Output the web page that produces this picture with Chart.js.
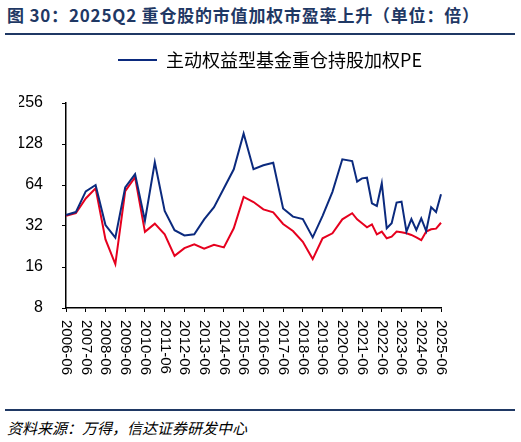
<!DOCTYPE html>
<html>
<head>
<meta charset="utf-8">
<script src="https://cdn.jsdelivr.net/npm/chart.js@4.4.1/dist/chart.umd.min.js"></script>
<style>
  html, body { margin: 0; padding: 0; background: #fff; }
  #page { position: relative; width: 521px; height: 442px; overflow: hidden; }
  .title { position: absolute; left: 7px; top: 4px; font: bold 17px "Noto Sans CJK SC", sans-serif; color: #1f3864; white-space: nowrap; line-height: 22px; letter-spacing: 0.8px; }
  .rule { position: absolute; left: 5px; width: 510px; height: 2px; background: #1f3864; }
  .source { position: absolute; left: 7px; top: 418px; font: italic 15px "Noto Sans CJK SC", sans-serif; color: #000; white-space: nowrap; line-height: 20px; }
  #wrap { position: absolute; left: 0; top: 40px; width: 521px; height: 360px; }
</style>
</head>
<body>
<div id="page">
  <div class="title">图 30：2025Q2 重仓股的市值加权市盈率上升（单位：倍）</div>
  <div class="rule" style="top:33px"></div>
  <div id="wrap"><canvas id="chart"></canvas></div>
  <div class="rule" style="top:409px"></div>
  <div class="source">资料来源：万得，信达证券研发中心</div>
</div>
<script>
// report dates (semiannual until 2020, quarterly after)
const dates = [
  '2006-06', '2006-12', '2007-06', '2007-12', '2008-06', '2008-12', '2009-06', '2009-12',
  '2010-06', '2010-12', '2011-06', '2011-12', '2012-06', '2012-12', '2013-06', '2013-12',
  '2014-06', '2014-12', '2015-06', '2015-12', '2016-06', '2016-12', '2017-06', '2017-12',
  '2018-06', '2018-12', '2019-06', '2019-12', '2020-06', '2020-12',
  '2021-03', '2021-06', '2021-09', '2021-12', '2022-03', '2022-06', '2022-09', '2022-12',
  '2023-03', '2023-06', '2023-09', '2023-12', '2024-03', '2024-06', '2024-09', '2024-12',
  '2025-03', '2025-06'
];
const weightedPE = [
  38.5, 40.5, 57.5, 64, 32.5, 26.3, 61.5, 76.8,
  35, 94, 41.3, 29.8, 27.3, 27.8, 35.8, 44,
  60.5, 83.5, 153, 83.5, 89.3, 93.3, 43, 37.5,
  36, 26.4, 38, 57, 98.8, 96,
  67.7, 71.6, 72.4, 47, 44.9, 66, 30.8, 33.5,
  47.5, 48.3, 29.1, 36, 29.9, 36.4, 29.4, 44,
  40.5, 54.7
];
const secondPE = [
  38, 39.7, 51, 60.5, 25.5, 16.8, 57.7, 73,
  29, 33.3, 27.8, 19.3, 22, 23.5, 21.8, 23.3,
  22.3, 30.8, 52.3, 48, 42.4, 40.3, 33.1, 29.4,
  24.5, 18.3, 26, 28.3, 35.8, 39.7,
  35.8, 33.5, 31.3, 32.9, 27.8, 29.1, 26, 26.7,
  29.1, 28.8, 28.3, 27.5, 26.4, 25.2, 29.1, 30.3,
  30.6, 33.8
];
const yTicks = [8, 16, 32, 64, 128, 256];
const legendLabel = '主动权益型基金重仓持股加权PE';

// quarterly axis so the later quarterly points sit between the yearly ticks
const quarters = [];
for (let y = 2006; y <= 2025; y++) {
  ['03', '06', '09', '12'].forEach(m => {
    const q = y + '-' + m;
    if (q >= '2006-06' && q <= '2025-06') quarters.push(q);
  });
}

const navy = '#0b2a7e';
const red = '#e6001e';

// x labels read top-to-bottom in the reference, so draw them ourselves
const downLabels = {
  id: 'downLabels',
  afterDraw(chart) {
    const scale = chart.scales.x;
    const ctx = chart.ctx;
    ctx.save();
    ctx.font = '15px "Liberation Sans", Arial, sans-serif';
    ctx.fillStyle = '#000';
    ctx.textAlign = 'left';
    ctx.textBaseline = 'middle';
    scale.ticks.forEach((t, i) => {
      const px = scale.getPixelForTick(i);
      ctx.save();
      ctx.translate(px, scale.top + 12);
      ctx.rotate(Math.PI / 2);
      ctx.fillText(quarters[t.value], 0, 0);
      ctx.restore();
    });
    ctx.restore();
  }
};

const ctx = document.getElementById('chart').getContext('2d');
new Chart(ctx, {
  type: 'line',
  data: {
    labels: quarters,
    datasets: [
      {
        label: legendLabel,
        data: dates.map((d, i) => ({ x: d, y: weightedPE[i] })),
        borderColor: navy,
        backgroundColor: navy,
        borderWidth: 2,
        pointRadius: 0,
        tension: 0,
        spanGaps: true
      },
      {
        label: '',
        data: dates.map((d, i) => ({ x: d, y: secondPE[i] })),
        borderColor: red,
        backgroundColor: red,
        borderWidth: 2,
        pointRadius: 0,
        tension: 0,
        spanGaps: true
      }
    ]
  },
  options: {
    responsive: true,
    maintainAspectRatio: false,
    animation: false,
    layout: { padding: { left: 19, right: 0, top: 0, bottom: 0 } },
    plugins: {
      legend: {
        display: true,
        position: 'top',
        labels: {
          color: '#000',
          font: { size: 18, family: '"Noto Sans CJK SC", sans-serif' },
          boxWidth: 39,
          boxHeight: 2,
          padding: 11,
          filter: (item) => item.datasetIndex === 0,
          generateLabels: (chart) => [{
            text: legendLabel,
            fillStyle: navy,
            strokeStyle: navy,
            lineWidth: 0,
            datasetIndex: 0
          }]
        }
      },
      tooltip: { enabled: false }
    },
    scales: {
      x: {
        type: 'category',
        offset: false,
        grid: { display: true, drawOnChartArea: false, drawTicks: true, tickLength: 4, color: '#000', lineWidth: 1 },
        border: { display: true, color: '#000', width: 1.5 },
        ticks: { display: false, autoSkip: false },
        afterBuildTicks: (axis) => {
          axis.ticks = axis.ticks.filter(t => quarters[t.value].endsWith('-06'));
        },
        afterFit: (axis) => { axis.height = 92; }
      },
      top: {
        type: 'linear',
        position: 'top',
        display: true,
        grid: { display: false },
        border: { display: false },
        ticks: { display: false },
        afterFit: (axis) => { axis.height = 24; }
      },
      y: {
        type: 'logarithmic',
        min: 8,
        max: 256,
        grid: { display: true, drawOnChartArea: false, drawTicks: true, tickLength: 4, color: '#000' },
        border: { display: true, color: '#000', width: 1.5 },
        ticks: {
          color: '#000',
          padding: 19,
          font: { size: 16, family: '"Liberation Sans", Arial, sans-serif' },
          callback: (v) => String(v)
        },
        afterBuildTicks: (axis) => {
          axis.ticks = yTicks.map(v => ({ value: v }));
        },
        afterFit: (axis) => { axis.width = 47; }
      },
      right: {
        type: 'linear',
        position: 'right',
        display: true,
        grid: { display: false },
        border: { display: false },
        ticks: { display: false },
        afterFit: (axis) => { axis.width = 80; }
      }
    }
  },
  plugins: [downLabels]
});
</script>
</body>
</html>
